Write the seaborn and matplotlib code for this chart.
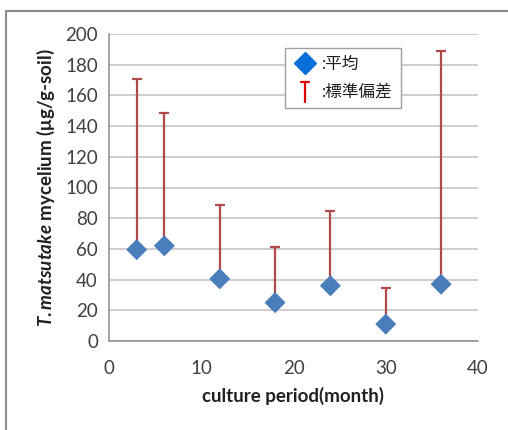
import numpy as np
import pandas as pd
import matplotlib
matplotlib.use("Agg")
import matplotlib.pyplot as plt
from matplotlib.lines import Line2D
from matplotlib.legend_handler import HandlerBase
import seaborn as sns

# data
months = [3, 6, 12, 18, 24, 30, 36]
mean_mycelium = [59.5, 62, 40.5, 25, 36, 11, 37]
sd_mycelium = [111, 86.5, 48, 36.5, 49, 23.5, 152]
legend_labels = [":平均", ":標準偏差"]

df = pd.DataFrame({"month": months, "mean": mean_mycelium, "sd": sd_mycelium})

sns.set_style("white")
plt.rcParams["font.family"] = ["Lato", "Noto Sans CJK JP", "DejaVu Sans"]
plt.rcParams["mathtext.fontset"] = "custom"
plt.rcParams["mathtext.it"] = "Lato:italic:bold"
plt.rcParams["mathtext.rm"] = "Lato:bold"


class ErrHandler(HandlerBase):
    # little T-shaped glyph for the std-dev legend entry
    def create_artists(self, legend, orig_handle, xd, yd, w, h, fontsize, trans):
        cx = xd + w / 2
        v = Line2D([cx, cx], [yd - 0.45 * h, yd + 1.3 * h], color="#e00000", lw=1.6, transform=trans)
        c = Line2D([cx - 3, cx + 3], [yd + 1.3 * h, yd + 1.3 * h], color="#e00000", lw=1.6, transform=trans)
        return [v, c]


fig = plt.figure(figsize=(5.08, 4.30), dpi=100)
ax = fig.add_axes([109 / 508, 1 - 341 / 430, (478 - 109) / 508, (341 - 34) / 430])

ax.errorbar(df["month"], df["mean"], yerr=[np.zeros(len(df)), df["sd"]], fmt="none",
            ecolor="#b04a48", elinewidth=1.6, capsize=3.3, capthick=1.6, zorder=2)
sns.scatterplot(data=df, x="month", y="mean", marker="D", s=115, color="#4a7ebb",
                edgecolor="none", ax=ax, zorder=3, legend=False)

ax.set_xlim(0, 40)
ax.set_ylim(0, 200)
ax.set_xticks(range(0, 41, 10))
ax.set_yticks(range(0, 201, 20))
ax.yaxis.grid(True, color="#c0c0c0", lw=1.1)
ax.xaxis.grid(False)
ax.set_axisbelow(True)
for s in ["top", "right"]:
    ax.spines[s].set_visible(False)
for s in ["left", "bottom"]:
    ax.spines[s].set_color("#8c8c8c")
    ax.spines[s].set_linewidth(1.1)
ax.tick_params(axis="both", direction="out", length=5, width=1.1, color="#8c8c8c",
               labelsize=13.5, labelcolor="#404040")
ax.tick_params(axis="x", pad=9)
ax.tick_params(axis="y", pad=3)

ax.set_xlabel("culture period(month)", fontsize=13.5, fontweight="bold", color="#202020", labelpad=7)
ax.set_ylabel(r"$\it{T.matsutake}$ mycelium (μg/g-soil)", fontsize=13.5, fontweight="bold",
              color="#202020", labelpad=6)

handles = [Line2D([], [], marker="D", ls="none", color="#0a6fd8", markersize=11),
           Line2D([], [], color="#e00000")]
leg = ax.legend(handles, legend_labels, handler_map={handles[1]: ErrHandler()},
                loc="upper left", bbox_to_anchor=((285 - 109) / 369, 1 - (48 - 34) / 307),
                frameon=True, fancybox=False, framealpha=1, edgecolor="#a0a0a0",
                fontsize=12, handlelength=1.4, handletextpad=0.3, borderpad=0.5,
                labelspacing=0.7, borderaxespad=0)
leg.get_frame().set_linewidth(1.0)
for t in leg.get_texts():
    t.set_color("#202020")

# outer frame lines (top and left only, as in the cropped picture)
fig.add_artist(Line2D([6 / 508, 1], [1 - 11 / 430, 1 - 11 / 430], transform=fig.transFigure,
                      color="#8a8a8a", lw=1.5))
fig.add_artist(Line2D([6 / 508, 6 / 508], [0, 1 - 11 / 430], transform=fig.transFigure,
                      color="#8a8a8a", lw=1.5))

fig.savefig("out.png", dpi=100)
